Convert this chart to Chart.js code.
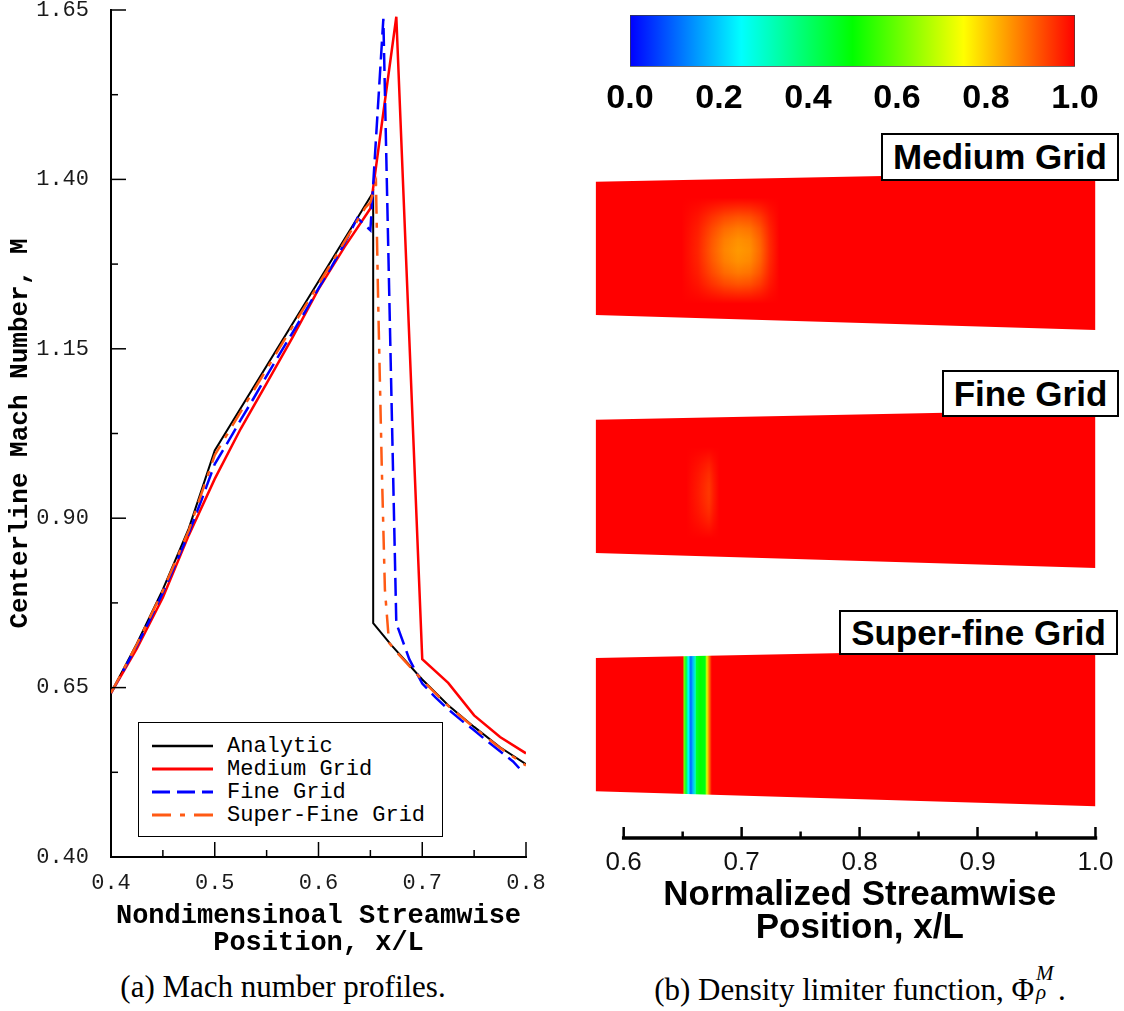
<!DOCTYPE html>
<html>
<head>
<meta charset="utf-8">
<script src="https://cdn.jsdelivr.net/npm/chart.js@4.4.1/dist/chart.umd.min.js"></script>
<style>
html,body{margin:0;padding:0;background:#fff;}
#wrap{position:relative;width:1124px;height:1011px;overflow:hidden;background:#fff;}
canvas{position:absolute;}
#cLeft{left:0;top:0;}
#cBar{left:560px;top:0;}
#cRight{left:560px;top:120px;}
.tag{position:absolute;box-sizing:border-box;border:2px solid #000;background:#fff;font:bold 35px "Liberation Sans",Arial,sans-serif;color:#000;display:flex;align-items:center;justify-content:center;z-index:5;white-space:nowrap;}
#legend{position:absolute;left:138px;top:722px;width:305px;height:115px;box-sizing:border-box;border:1.5px solid #000;background:#fff;z-index:5;}
.lrow{position:absolute;left:0;width:300px;height:24px;}
.lrow svg{position:absolute;left:13px;top:0;}
.lrow span{position:absolute;left:88px;top:0;line-height:24px;font:22px "Liberation Mono","Courier New",monospace;color:#000;white-space:pre;}
.cap{position:absolute;font-family:"Liberation Serif","Times New Roman",serif;font-size:31px;line-height:36px;white-space:nowrap;color:#000;transform:translateX(-50%);z-index:5;}
.stack{display:inline-block;position:relative;width:24px;height:1em;vertical-align:baseline;}
.stack i{position:absolute;left:2px;font-size:0.68em;line-height:1;}
</style>
</head>
<body>
<div id="wrap">
  <canvas id="cLeft" width="560" height="960"></canvas>
  <canvas id="cBar" width="564" height="130"></canvas>
  <canvas id="cRight" width="564" height="840"></canvas>
  <div id="legend"></div>
  <div class="tag" style="left:881px;top:133px;width:238px;height:48px;">Medium Grid</div>
  <div class="tag" style="left:942px;top:370px;width:177px;height:47px;">Fine Grid</div>
  <div class="tag" style="left:839px;top:610px;width:279px;height:45px;">Super-fine Grid</div>
  <div class="cap" style="left:283px;top:969px;">(a) Mach number profiles.</div>
  <div class="cap" style="left:860px;top:969px;">(b) Density limiter function, Φ<span class="stack"><i style="top:-0.28em;">M</i><i style="top:0.6em;">ρ</i></span>.</div>
</div>
<script>
// ---------------- Left panel data: centerline Mach number ----------------
const analyticX = [0.400,0.425,0.450,0.475,0.500,0.6527,0.6527,0.670,0.700,0.725,0.750,0.775,0.800];
const analyticM = [0.642,0.715,0.795,0.885,1.000,1.381,0.745,0.713,0.662,0.624,0.592,0.562,0.537];

const mediumX = [0.400,0.425,0.450,0.475,0.500,0.525,0.550,0.575,0.600,0.625,0.650,0.675,0.700,0.725,0.750,0.775,0.800];
const mediumM = [0.642,0.708,0.783,0.875,0.958,1.032,1.099,1.167,1.238,1.300,1.357,1.640,0.692,0.657,0.609,0.577,0.553];

const fineX = [0.4000,0.4125,0.4250,0.4375,0.4500,0.4625,0.4750,0.4875,0.5000,0.5125,0.5250,0.5375,0.5500,0.5625,0.5750,0.5875,0.6000,0.6125,0.6250,0.6375,0.6500,0.6625,0.6750,0.6875,0.7000,0.7125,0.7250,0.7375,0.7500,0.7625,0.7750,0.7875,0.7935];
const fineM = [0.642,0.677,0.712,0.750,0.790,0.833,0.878,0.928,0.980,1.012,1.045,1.077,1.110,1.142,1.174,1.206,1.239,1.271,1.305,1.343,1.325,1.637,0.745,0.692,0.656,0.636,0.618,0.602,0.587,0.571,0.556,0.541,0.531];

const superX = [0.400,0.425,0.450,0.475,0.500,0.525,0.550,0.575,0.600,0.625,0.645,0.650,0.6554,0.6575,0.6610,0.6640,0.6680,0.675,0.700,0.725,0.750,0.775,0.800];
const superM = [0.642,0.714,0.793,0.882,0.993,1.057,1.120,1.183,1.245,1.308,1.358,1.366,1.394,1.220,0.975,0.795,0.716,0.703,0.661,0.623,0.591,0.561,0.535];

const seriesNames = ['Analytic','Medium Grid','Fine Grid','Super-Fine Grid'];

const leftXTicks = [0.4,0.5,0.6,0.7,0.8];
const leftXMinor = [0.45,0.55,0.65,0.75];
const leftYTicks = [0.40,0.65,0.90,1.15,1.40,1.65];
const leftYMinor = [0.525,0.775,1.025,1.275,1.525];

// ---------------- Right panel data: density limiter function ----------------
const cbarTicks = [0.0,0.2,0.4,0.6,0.8,1.0];
const cmapStops = [0,0.25,0.5,0.75,1];
const cmapRGB = [[0,0,255],[0,255,255],[0,255,0],[255,255,0],[255,0,0]];

const rightXTicks = [0.6,0.7,0.8,0.9,1.0];
const rightXMinor = [0.65,0.75,0.85,0.95];

const nozzleX = [0.5761,1.0];
const nozzleUpper = [0.2797,0.3217];
const nozzleLower = [-0.2801,-0.3431];
const panelNames = ['Medium Grid','Fine Grid','Super-fine Grid'];
const panelCenters = [2,1,0];

// Medium grid: limiter dip along the centre row of the blob
const mediumBlobX = [0.6490,0.6630,0.6750,0.6855,0.6970,0.7070,0.7160,0.7240,0.7320];
const mediumBlobPhi = [1.0,0.965,0.91,0.87,0.85,0.86,0.90,0.96,1.0];
const mediumBlobY = [0.22,-0.24];
// Fine grid
const fineBlobX = [0.6530,0.6630,0.6724,0.6765,0.6810];
const fineBlobPhi = [1.0,0.975,0.945,0.975,1.0];
const fineBlobY = [0.17,-0.225];
// Super-fine grid: full-height band
const superBandX = [0.5761,0.6501,0.6512,0.6529,0.6548,0.6569,0.6586,0.6608,0.6614,0.6648,0.6690,0.6705,0.6724,0.6747,1.0];
const superBandPhi = [1.0,1.0,0.62,0.45,0.25,0.10,0.18,0.32,0.45,0.50,0.48,0.72,0.88,1.0,1.0];

// ---------------- helpers ----------------
const pts = (xs, ys) => xs.map((x,i)=>({x, y: ys[i]}));
function jet(p){
  p = Math.max(0, Math.min(1, p));
  for (let i=1;i<cmapStops.length;i++){
    if (p <= cmapStops[i]) {
      const t = (p - cmapStops[i-1])/(cmapStops[i]-cmapStops[i-1]);
      const a = cmapRGB[i-1], b = cmapRGB[i];
      return 'rgb(' + [0,1,2].map(k=>Math.round(a[k]+(b[k]-a[k])*t)).join(',') + ')';
    }
  }
  return 'rgb(255,0,0)';
}
function profileGradient(chart, xs, phis){
  const sx = chart.scales.x;
  const x0 = sx.getPixelForValue(xs[0]), x1 = sx.getPixelForValue(xs[xs.length-1]);
  const g = chart.ctx.createLinearGradient(x0,0,x1,0);
  xs.forEach((x,i)=>{
    const f = Math.max(0, Math.min(1, (sx.getPixelForValue(x)-x0)/(x1-x0)));
    g.addColorStop(f, jet(phis[i]));
  });
  return g;
}
const fadeStops = [0,0.04,0.12,0.21,0.31,0.41,0.5,0.59,0.69,0.79,0.88,0.96,1];
const fadeAlpha = [1,1,0.75,0.45,0.2,0.05,0,0.05,0.2,0.45,0.75,1,1];
function fadeGradient(chart, top, bot){
  const sy = chart.scales.y;
  const p0 = sy.getPixelForValue(top), p1 = sy.getPixelForValue(bot);
  const g = chart.ctx.createLinearGradient(0,p0,0,p1);
  fadeStops.forEach((s,i)=>g.addColorStop(s,'rgba(255,0,0,'+fadeAlpha[i]+')'));
  return g;
}

// plugin: inward ticks + optional partial axis line
const inwardTicks = {
  id: 'inwardTicks',
  afterDatasetsDraw(chart, args, o){
    const {ctx, chartArea: a, scales} = chart;
    ctx.save();
    ctx.strokeStyle = o.color || '#000';
    ctx.lineCap = 'butt';
    if (o.xAxisLine) {
      ctx.lineWidth = o.axisWidth;
      ctx.beginPath();
      ctx.moveTo(scales.x.getPixelForValue(o.xAxisLine[0]) - o.axisWidth/2, a.bottom);
      ctx.lineTo(scales.x.getPixelForValue(o.xAxisLine[1]) + o.axisWidth/2, a.bottom);
      ctx.stroke();
    }
    ctx.lineWidth = o.tickWidth;
    const xt = (vals, len) => (vals||[]).forEach(v=>{
      const p = scales.x.getPixelForValue(v);
      ctx.beginPath(); ctx.moveTo(p, a.bottom); ctx.lineTo(p, a.bottom - len); ctx.stroke();
    });
    const yt = (vals, len) => (vals||[]).forEach(v=>{
      const p = scales.y.getPixelForValue(v);
      ctx.beginPath(); ctx.moveTo(a.left, p); ctx.lineTo(a.left + len, p); ctx.stroke();
    });
    xt(o.xMajor, o.majorLen); xt(o.xMinor, o.minorLen);
    yt(o.yMajor, o.majorLen); yt(o.yMinor, o.minorLen);
    ctx.restore();
  }
};
Chart.register(inwardTicks);

// ---------------- Left chart ----------------
const monoFont = '"Liberation Mono","Courier New",monospace';
const leftChart = new Chart(document.getElementById('cLeft'), {
  type: 'line',
  data: {
    datasets: [
      {label: seriesNames[0], data: pts(analyticX, analyticM), borderColor:'#000000', borderWidth:2, borderDash:[], order:4},
      {label: seriesNames[1], data: pts(mediumX, mediumM), borderColor:'#ff0000', borderWidth:2.5, borderDash:[], order:3},
      {label: seriesNames[2], data: pts(fineX, fineM), borderColor:'#0000ff', borderWidth:2.5, borderDash:[18,7], order:2},
      {label: seriesNames[3], data: pts(superX, superM), borderColor:'#ff5a14', borderWidth:2.5, borderDash:[19,9,5,9], order:1}
    ]
  },
  options: {
    responsive:false, animation:false, events:[],
    elements:{point:{radius:0}, line:{tension:0, fill:false}},
    layout:{padding:{left:0,right:34,top:10,bottom:0}},
    plugins:{
      legend:{display:false}, tooltip:{enabled:false},
      inwardTicks:{xMajor:leftXTicks, xMinor:leftXMinor, yMajor:leftYTicks, yMinor:leftYMinor, majorLen:15, minorLen:7, tickWidth:1.5, color:'#000'}
    },
    scales:{
      x:{type:'linear', min:0.4, max:0.8,
        afterBuildTicks:s=>{ s.ticks = leftXTicks.map(v=>({value:v})); },
        afterFit:s=>{ s.height = 103; s.paddingLeft = 0; s.paddingRight = 0; },
        grid:{display:false}, border:{display:true,color:'#000',width:2},
        ticks:{callback:v=>Number(v).toFixed(1), font:{family:monoFont,size:22}, color:'#1a1a1a', padding:5, maxRotation:0, autoSkip:false},
        title:{display:true, text:['Nondimensinoal Streamwise','Position, x/L'], color:'#000',
          font:{family:monoFont, weight:'bold', size:27, lineHeight:1}, padding:{top:0,bottom:3.5}}
      },
      y:{type:'linear', min:0.4, max:1.65,
        afterBuildTicks:s=>{ s.ticks = leftYTicks.map(v=>({value:v})); },
        afterFit:s=>{ s.width = 111; s.paddingTop = 0; s.paddingBottom = 0; },
        grid:{display:false}, border:{display:true,color:'#000',width:2},
        ticks:{callback:v=>Number(v).toFixed(2), font:{family:monoFont,size:22}, color:'#1a1a1a', padding:14, autoSkip:false},
        title:{display:true, text:'Centerline Mach Number, M', color:'#000',
          font:{family:monoFont, weight:'bold', size:26}, padding:{top:5,bottom:0}}
      }
    }
  }
});

// HTML legend built from the chart's datasets
(function(){
  const box = document.getElementById('legend');
  leftChart.data.datasets.forEach((ds,i)=>{
    const row = document.createElement('div');
    row.className = 'lrow';
    row.style.top = (11 + i*22.9) + 'px';
    const dash = (ds.borderDash && ds.borderDash.length) ? ' stroke-dasharray="'+ds.borderDash.join(',')+'"' : '';
    row.innerHTML = '<svg width="64" height="24"><line x1="0" y1="12" x2="61" y2="12" stroke="'+ds.borderColor+'" stroke-width="'+(ds.borderWidth+0.5)+'"'+dash+'/></svg><span></span>';
    row.querySelector('span').textContent = ds.label;
    box.appendChild(row);
  });
})();

// ---------------- Colour bar ----------------
const sansFont = '"Liberation Sans",Arial,Helvetica,sans-serif';
new Chart(document.getElementById('cBar'), {
  type:'bar',
  data:{labels:['phi'], datasets:[{
    data:[[cbarTicks[0], cbarTicks[cbarTicks.length-1]]],
    backgroundColor:(c)=>{
      const ch = c.chart; if (!ch.chartArea) return 'red';
      const sx = ch.scales.x;
      const g = ch.ctx.createLinearGradient(sx.getPixelForValue(0),0,sx.getPixelForValue(1),0);
      cmapStops.forEach((s,i)=>g.addColorStop(s,'rgb('+cmapRGB[i].join(',')+')'));
      return g;
    },
    borderColor:'#3c3c3c', borderWidth:1, borderSkipped:false,
    barPercentage:1, categoryPercentage:1
  }]},
  options:{
    indexAxis:'y', responsive:false, animation:false, events:[],
    layout:{padding:{left:70,right:49,top:15,bottom:0}},
    plugins:{legend:{display:false}, tooltip:{enabled:false}},
    scales:{
      x:{type:'linear', min:0, max:1,
        afterBuildTicks:s=>{ s.ticks = cbarTicks.map(v=>({value:v})); },
        afterFit:s=>{ s.height = 63.3; s.paddingLeft = 0; s.paddingRight = 0; },
        grid:{display:false}, border:{display:false},
        ticks:{callback:v=>Number(v).toFixed(1), font:{family:sansFont, weight:'bold', size:34}, color:'#000', padding:4, maxRotation:0, autoSkip:false}
      },
      y:{display:false}
    }
  }
});

// ---------------- Right chart: limiter contours ----------------
const rightDatasets = [];
function addFill(xs, tops, bots, bg, order){
  rightDatasets.push({data: pts(xs, tops), borderWidth:0, pointRadius:0, fill:false, order});
  rightDatasets.push({data: pts(xs, bots), borderWidth:0, pointRadius:0, fill:'-1', backgroundColor:bg, order});
}
const basePhi = [[1,1],[1,1],null];
panelCenters.forEach((c, k)=>{
  const tops = nozzleUpper.map(v=>v+c), bots = nozzleLower.map(v=>v+c);
  if (k === 2) {
    addFill(nozzleX, tops, bots, (ctx)=> ctx.chart.chartArea ? profileGradient(ctx.chart, superBandX, superBandPhi) : 'red', 10);
  } else {
    addFill(nozzleX, tops, bots, (ctx)=> ctx.chart.chartArea ? profileGradient(ctx.chart, nozzleX, basePhi[k]) : 'red', 10);
  }
});
function addBlob(c, bx, bphi, by){
  const xs = [bx[0], bx[bx.length-1]];
  const t = [by[0]+c, by[0]+c], b = [by[1]+c, by[1]+c];
  addFill(xs, t, b, (ctx)=> ctx.chart.chartArea ? profileGradient(ctx.chart, bx, bphi) : 'rgba(0,0,0,0)', 5);
  // soft vertical fade, slightly larger than the blob so no seam shows
  const m = 0.012;
  const xo = [bx[0]-0.002, bx[bx.length-1]+0.002];
  const to = [t[0]+m, t[1]+m], bo = [b[0]-m, b[1]-m];
  addFill(xo, to, bo, (ctx)=> ctx.chart.chartArea ? fadeGradient(ctx.chart, to[0], bo[0]) : 'rgba(0,0,0,0)', 2);
}
addBlob(panelCenters[0], mediumBlobX, mediumBlobPhi, mediumBlobY);
addBlob(panelCenters[1], fineBlobX, fineBlobPhi, fineBlobY);

new Chart(document.getElementById('cRight'), {
  type:'line',
  data:{datasets: rightDatasets},
  options:{
    responsive:false, animation:false, events:[],
    elements:{point:{radius:0}, line:{tension:0}},
    layout:{padding:{left:35.5,right:0,top:0,bottom:0}},
    plugins:{
      legend:{display:false}, tooltip:{enabled:false},
      filler:{propagate:false},
      inwardTicks:{xMajor:rightXTicks, xMinor:rightXMinor, majorLen:11, minorLen:6.5, tickWidth:2.5, axisWidth:3.5, xAxisLine:[rightXTicks[0], rightXTicks[rightXTicks.length-1]], color:'#000'}
    },
    scales:{
      x:{type:'linear', min:nozzleX[0], max:1.0242,
        afterBuildTicks:s=>{ s.ticks = rightXTicks.map(v=>({value:v})); },
        afterFit:s=>{ s.height = 122; s.paddingLeft = 0; s.paddingRight = 0; },
        grid:{display:false}, border:{display:false},
        ticks:{callback:v=>Number(v).toFixed(1), font:{family:sansFont, size:26}, color:'#111', padding:1, maxRotation:0, autoSkip:false},
        title:{display:true, text:['Normalized Streamwise','Position, x/L'], color:'#000',
          font:{family:sansFont, weight:'bold', size:35, lineHeight:33/35}, padding:{top:0,bottom:15.5}}
      },
      y:{type:'linear', display:false, min:-0.4767, max:2.5388}
    }
  }
});
</script>
</body>
</html>
